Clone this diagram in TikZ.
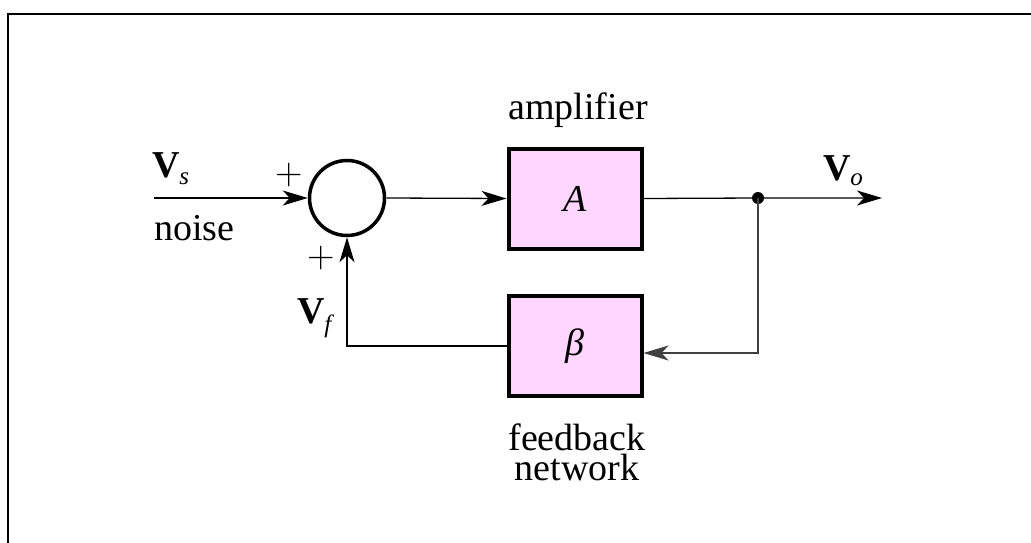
\documentclass[tikz,border=0pt]{standalone}
\usepackage{fontspec}
\setmainfont{Liberation Serif}
\newfontfamily\lmrfont{Latin Modern Roman}
\usetikzlibrary{arrows.meta,calc}
\definecolor{boxpink}{RGB}{255,214,255}
\newcommand{\subtxt}[2]{\raisebox{#1}{\mdseries\fontsize{25}{25}\selectfont\itshape #2}}
\begin{document}
\begin{tikzpicture}[x=1pt,y=-1pt,
  font=\fontsize{38}{30}\selectfont,
  tip/.style={-{Stealth[length=25pt,width=15pt,inset=7pt]}},
  wire/.style={line width=1.3pt},
  blockbox/.style={draw,line width=4pt,fill=boxpink,minimum width=133pt,minimum height=100pt,inner sep=0pt},
  sumnode/.style={draw,circle,line width=3.5pt,minimum size=75pt,inner sep=0pt},
  lbl/.style={inner sep=0pt,outer sep=0pt},
  plussign/.style={inner sep=0pt,outer sep=0pt,font=\lmrfont\fontsize{38}{38}\selectfont}]
\useasboundingbox (0,0) rectangle (1031,543);
\draw[line width=2pt] (8,543) -- (8,14) -- (1031,14);

\node[sumnode] (sum) at (347,198) {};
\node[blockbox] (A) at (575,198.5) {\itshape A};
\node[blockbox] (B) at (575,346) {\itshape β};
\coordinate (in) at (154,198);
\coordinate (dot) at (758,198);
\coordinate (out) at (882,198);
\fill (dot) circle (6pt);

\draw[wire,tip] (in) -- (sum.west);
\draw[wire,tip] (sum.east) -- (A.west);
\draw[wire,tip] (A.east) -- (dot) -- (out);
\draw[wire,tip,black!75] (dot) |- ([yshift=-7pt]B.east);
\draw[wire,tip] (B.west) -| (sum.south);

\node[lbl,anchor=base west] (vs) at (152,177) {\bfseries V\subtxt{-0.2em}{s}};
\node[lbl,anchor=base west] (noise) at (154,240) {noise};
\node[lbl,anchor=base] (amp) at (578,119) {amplifier};
\node[lbl,anchor=base west] (vo) at (823,180) {\bfseries V\subtxt{-0.15em}{o}};
\node[lbl,anchor=base west] (vf) at (297,323) {\bfseries V\subtxt{-0.25em}{f}};
\node[lbl,anchor=base,align=center] (fb) at (577,480) {feedback\\network};
\node[plussign] (p1) at (289,175) {+};
\node[plussign] (p2) at (321,258) {+};
\end{tikzpicture}
\end{document}
